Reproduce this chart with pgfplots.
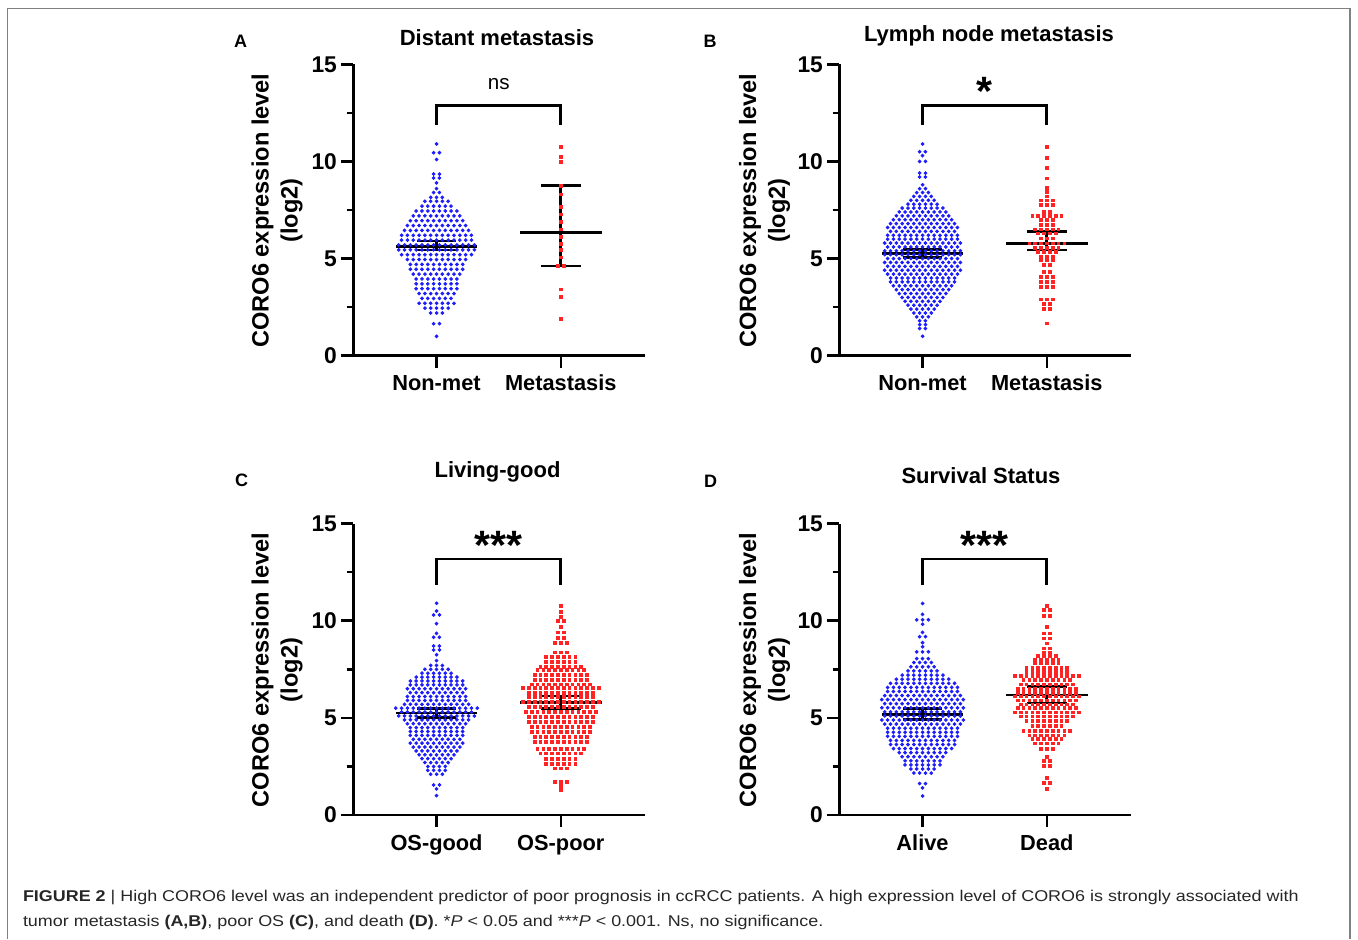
\documentclass[border=0pt]{standalone}
\usepackage{pgfplots}
\pgfplotsset{compat=1.18}
\usepackage{fontspec}
\setmainfont{Liberation Sans}
\newfontfamily\capfont{Liberation Sans}[FakeStretch=1.15]
\definecolor{dotblue}{RGB}{30,30,250}
\definecolor{dotred}{RGB}{255,35,35}

% one swarm column: style, group centre, column offset, y values (mirrored at +/- offset)
\newcommand\sw[4]{%
  \addplot[#1] table[header=false,row sep=\\,y index=0,x expr=#2+#3]{#4};
  \addplot[#1] table[header=false,row sep=\\,y index=0,x expr=#2-#3]{#4};}
\newcommand\swc[3]{%
  \addplot[#1] table[header=false,row sep=\\,y index=0,x expr=#2]{#3};}

\pgfplotsset{
  panel/.style={scale only axis, width=145.8pt, height=145.7pt, anchor=south west,
    xmin=-14.3, xmax=35.8, ymin=0, ymax=15, enlargelimits=false, clip=false,
    axis x line*=bottom, axis y line*=left,
    axis line style={-, line width=1.3pt, black},
    ytick={0,5,10,15}, minor ytick={2.5,7.5,12.5}, xtick={0,21.35},
    tick align=outside, major tick length=6pt, minor tick length=3.4pt,
    tick style={black, line width=1.3pt},
    yticklabel style={font=\bfseries\fontsize{11.4}{12}\selectfont, inner sep=2pt},
    xticklabel style={font=\bfseries\fontsize{10.9}{12}\selectfont, text height=8pt, text depth=1pt},
    /pgf/number format/assume math mode=true},
  bd/.style={only marks, mark=*, mark size=0.72pt, color=dotblue},
  rd/.style={only marks, mark=square*, mark size=0.68pt, color=dotred},
  bar/.style={black, line width=1.35pt, no marks, unbounded coords=jump},
}
\tikzset{stars/.style={anchor=base, font=\bfseries\fontsize{20.5}{20}\selectfont}}

\begin{document}
\begin{tikzpicture}
\useasboundingbox (0,0) rectangle (679pt,-469.5pt);
\draw[black!50, line width=0.6pt] (3.65pt,-469.5pt) -- (3.65pt,-4.25pt) -- (675pt,-4.25pt) -- (675pt,-469.5pt);

% ---------------- A
\begin{axis}[panel, at={(176.65pt,-177.85pt)}, xticklabels={Non-met,Metastasis}]
\swc{bd}{0}{10.9\\10.1\\8.9\\8.6\\8.15\\7.95\\7.2\\6.7\\6.2\\5.95\\5.2\\4.95\\4.2\\3.2\\2.7\\2.45\\2.2\\1.0\\}
\sw{bd}{0}{1}{8.15\\7.95\\7.2\\6.7\\6.2\\5.95\\5.2\\4.95\\4.2\\3.2\\2.7\\2.45\\2.2\\}
\sw{bd}{0}{2}{7.95\\7.2\\6.7\\6.2\\5.95\\5.2\\4.95\\4.2\\3.2\\2.7\\2.45\\}
\sw{bd}{0}{3}{7.2\\6.7\\6.2\\5.95\\5.2\\4.95\\4.2\\3.2\\2.7\\}
\sw{bd}{0}{4}{7.2\\6.7\\6.2\\5.95\\5.2\\4.95\\4.2\\}
\sw{bd}{0}{5}{6.7\\6.2\\5.95\\5.2\\4.95\\}
\sw{bd}{0}{6}{6.2\\5.95\\5.2\\}
\sw{bd}{0}{0.5}{10.45\\9.35\\9.15\\8.4\\7.7\\7.45\\6.95\\6.45\\5.7\\5.45\\4.7\\4.45\\3.95\\3.7\\3.45\\2.95\\1.65\\}
\sw{bd}{0}{1.5}{7.7\\7.45\\6.95\\6.45\\5.7\\5.45\\4.7\\4.45\\3.95\\3.7\\3.45\\2.95\\}
\sw{bd}{0}{2.5}{7.7\\7.45\\6.95\\6.45\\5.7\\5.45\\4.7\\4.45\\3.95\\3.7\\3.45\\2.95\\}
\sw{bd}{0}{3.5}{7.45\\6.95\\6.45\\5.7\\5.45\\4.7\\4.45\\3.95\\3.7\\3.45\\}
\sw{bd}{0}{4.5}{6.95\\6.45\\5.7\\5.45\\4.7\\4.45\\}
\sw{bd}{0}{5.5}{6.45\\5.7\\5.45\\}
\sw{bd}{0}{6.5}{5.7\\5.45\\}
\addplot[bar] coordinates {(-7,5.63) (7,5.63) (0,nan) (-3.4,5.90) (3.4,5.90) (0,nan) (-3.4,5.44) (3.4,5.44) (0,nan) (0,5.44) (0,5.90)};
\addplot[bar] coordinates {(14.35,6.33) (28.35,6.33) (0,nan) (17.95,8.77) (24.75,8.77) (0,nan) (17.95,4.62) (24.75,4.62) (0,nan) (21.35,4.62) (21.35,8.77)};
\swc{rd}{21.35}{10.76\\10.24\\9.99\\8.75\\8.3\\7.67\\7.28\\6.9\\6.5\\6.13\\5.75\\5.44\\5.06\\3.42\\3.01\\1.89\\}
\sw{rd}{21.35}{0.5}{4.62\\}
\addplot[bar] coordinates {(0,11.87) (0,12.87) (21.35,12.87) (21.35,11.87)};
\node[anchor=base, font=\fontsize{10.3}{12}\selectfont] at (axis cs:10.68,13.7) {ns};
\draw[line width=1.3pt] (axis cs:-14.3,0) -- ++(-6pt,0);
\end{axis}

% ---------------- B
\begin{axis}[panel, at={(419.65pt,-177.85pt)}, xticklabels={Non-met,Metastasis}]
\swc{bd}{0}{10.9\\10.3\\8.8\\8.4\\8.0\\7.4\\7.0\\6.6\\6.2\\6.0\\5.6\\5.0\\4.6\\4.2\\3.6\\3.2\\2.8\\2.4\\2.0\\1.0\\}
\sw{bd}{0}{1}{8.4\\8.0\\7.4\\7.0\\6.6\\6.2\\6.0\\5.6\\5.0\\4.6\\4.2\\3.6\\3.2\\2.8\\2.4\\2.0\\}
\sw{bd}{0}{2}{8.0\\7.4\\7.0\\6.6\\6.2\\6.0\\5.6\\5.0\\4.6\\4.2\\3.6\\3.2\\2.8\\2.4\\}
\sw{bd}{0}{3}{7.4\\7.0\\6.6\\6.2\\6.0\\5.6\\5.0\\4.6\\4.2\\3.6\\3.2\\2.8\\}
\sw{bd}{0}{4}{7.4\\7.0\\6.6\\6.2\\6.0\\5.6\\5.0\\4.6\\4.2\\3.6\\3.2\\}
\sw{bd}{0}{5}{7.0\\6.6\\6.2\\6.0\\5.6\\5.0\\4.6\\4.2\\3.6\\}
\sw{bd}{0}{6}{6.6\\6.2\\6.0\\5.6\\5.0\\4.6\\4.2\\}
\sw{bd}{0}{0.5}{10.5\\10.0\\9.4\\9.2\\8.6\\8.2\\7.8\\7.6\\7.2\\6.8\\6.4\\5.8\\5.4\\5.2\\4.8\\4.4\\4.0\\3.8\\3.4\\3.0\\2.6\\2.2\\1.8\\1.6\\1.4\\}
\sw{bd}{0}{1.5}{8.2\\7.8\\7.6\\7.2\\6.8\\6.4\\5.8\\5.4\\5.2\\4.8\\4.4\\4.0\\3.8\\3.4\\3.0\\2.6\\2.2\\}
\sw{bd}{0}{2.5}{7.8\\7.6\\7.2\\6.8\\6.4\\5.8\\5.4\\5.2\\4.8\\4.4\\4.0\\3.8\\3.4\\3.0\\2.6\\}
\sw{bd}{0}{3.5}{7.6\\7.2\\6.8\\6.4\\5.8\\5.4\\5.2\\4.8\\4.4\\4.0\\3.8\\3.4\\3.0\\}
\sw{bd}{0}{4.5}{7.2\\6.8\\6.4\\5.8\\5.4\\5.2\\4.8\\4.4\\4.0\\3.8\\3.4\\}
\sw{bd}{0}{5.5}{6.8\\6.4\\5.8\\5.4\\5.2\\4.8\\4.4\\4.0\\3.8\\}
\sw{bd}{0}{6.5}{5.8\\5.4\\5.2\\4.8\\4.4\\}
\swc{rd}{21.35}{10.76\\10.2\\9.67\\9.13\\8.62\\8.42\\8.2\\8.0\\7.75\\7.0\\6.72\\6.5\\6.04\\5.78\\5.56\\5.1\\4.9\\4.07\\3.8\\3.55\\2.9\\1.66\\}
\sw{rd}{21.35}{1}{8.0\\7.75\\7.0\\6.72\\6.5\\6.04\\5.78\\5.56\\5.1\\4.9\\4.07\\3.8\\3.55\\2.9\\}
\sw{rd}{21.35}{2}{6.5\\5.78\\5.56\\}
\sw{rd}{21.35}{3}{5.78\\}
\sw{rd}{21.35}{0.5}{7.4\\7.2\\6.3\\5.36\\4.67\\4.33\\2.65\\2.4\\}
\sw{rd}{21.35}{1.5}{7.2\\6.3\\5.36\\}
\sw{rd}{21.35}{2.5}{7.2\\}
\addplot[bar] coordinates {(-7,5.27) (7,5.27) (0,nan) (-3.4,5.47) (3.4,5.47) (0,nan) (-3.4,5.06) (3.4,5.06) (0,nan) (0,5.06) (0,5.47)};
\addplot[bar] coordinates {(14.35,5.78) (28.35,5.78) (0,nan) (17.95,6.40) (24.75,6.40) (0,nan) (17.95,5.44) (24.75,5.44) (0,nan) (21.35,5.44) (21.35,6.40)};
\addplot[bar] coordinates {(0,11.87) (0,12.87) (21.35,12.87) (21.35,11.87)};
\node[stars] at (axis cs:10.68,12.86) {*};
\draw[line width=1.3pt] (axis cs:-14.3,0) -- ++(-6pt,0);
\end{axis}

% ---------------- C
\begin{axis}[panel, at={(176.65pt,-407.5pt)}, xticklabels={OS-good,OS-poor}]
\swc{bd}{0}{10.9\\10.5\\9.85\\9.35\\8.25\\7.95\\7.7\\7.5\\6.5\\6.1\\5.9\\5.5\\5.3\\4.7\\3.9\\3.5\\3.1\\2.7\\2.1\\1.35\\1.0\\}
\sw{bd}{0}{1}{7.7\\7.5\\6.5\\6.1\\5.9\\5.5\\5.3\\4.7\\3.9\\3.5\\3.1\\2.7\\2.1\\}
\sw{bd}{0}{2}{7.5\\6.5\\6.1\\5.9\\5.5\\5.3\\4.7\\3.9\\3.5\\3.1\\2.7\\}
\sw{bd}{0}{3}{6.5\\6.1\\5.9\\5.5\\5.3\\4.7\\3.9\\3.5\\3.1\\}
\sw{bd}{0}{4}{6.5\\6.1\\5.9\\5.5\\5.3\\4.7\\3.9\\3.5\\}
\sw{bd}{0}{5}{6.5\\6.1\\5.9\\5.5\\5.3\\4.7\\}
\sw{bd}{0}{6}{5.5\\5.3\\}
\sw{bd}{0}{7}{5.5\\}
\sw{bd}{0}{0.5}{10.3\\9.15\\8.7\\8.5\\7.3\\7.1\\6.9\\6.7\\6.3\\5.7\\5.1\\4.9\\4.5\\4.3\\4.1\\3.7\\3.3\\2.9\\2.5\\2.3\\1.55\\}
\sw{bd}{0}{1.5}{7.3\\7.1\\6.9\\6.7\\6.3\\5.7\\5.1\\4.9\\4.5\\4.3\\4.1\\3.7\\3.3\\2.9\\2.5\\2.3\\}
\sw{bd}{0}{2.5}{7.3\\7.1\\6.9\\6.7\\6.3\\5.7\\5.1\\4.9\\4.5\\4.3\\4.1\\3.7\\3.3\\2.9\\}
\sw{bd}{0}{3.5}{7.1\\6.9\\6.7\\6.3\\5.7\\5.1\\4.9\\4.5\\4.3\\4.1\\3.7\\3.3\\}
\sw{bd}{0}{4.5}{6.9\\6.7\\6.3\\5.7\\5.1\\4.9\\4.5\\4.3\\4.1\\3.7\\}
\sw{bd}{0}{5.5}{5.7\\5.1\\4.9\\}
\sw{bd}{0}{6.5}{5.1\\}
\swc{rd}{21.35}{10.76\\10.46\\10.2\\9.69\\8.85\\8.37\\7.46\\6.72\\5.3\\4.55\\4.29\\3.4\\2.4\\1.7\\1.5\\1.28\\}
\sw{rd}{21.35}{1}{8.85\\8.37\\7.46\\6.72\\5.3\\4.55\\4.29\\3.4\\2.4\\1.7\\}
\sw{rd}{21.35}{2}{7.46\\6.72\\5.3\\4.55\\4.29\\3.4\\}
\sw{rd}{21.35}{3}{7.46\\6.72\\5.3\\4.55\\4.29\\3.4\\}
\sw{rd}{21.35}{4}{7.46\\6.72\\5.3\\4.55\\4.29\\3.4\\}
\sw{rd}{21.35}{5}{6.72\\5.3\\4.55\\4.29\\}
\sw{rd}{21.35}{6}{5.3\\}
\sw{rd}{21.35}{0.5}{9.98\\9.4\\9.1\\8.15\\7.9\\7.63\\7.2\\6.95\\6.55\\6.3\\6.09\\5.84\\5.58\\5.06\\4.8\\4.03\\3.77\\3.17\\2.9\\2.64\\}
\sw{rd}{21.35}{1.5}{8.15\\7.9\\7.63\\7.2\\6.95\\6.55\\6.3\\6.09\\5.84\\5.58\\5.06\\4.8\\4.03\\3.77\\3.17\\2.9\\2.64\\}
\sw{rd}{21.35}{2.5}{8.15\\7.9\\7.63\\7.2\\6.95\\6.55\\6.3\\6.09\\5.84\\5.58\\5.06\\4.8\\4.03\\3.77\\3.17\\2.9\\2.64\\}
\sw{rd}{21.35}{3.5}{7.63\\7.2\\6.95\\6.55\\6.3\\6.09\\5.84\\5.58\\5.06\\4.8\\4.03\\3.77\\3.17\\}
\sw{rd}{21.35}{4.5}{7.2\\6.95\\6.55\\6.3\\6.09\\5.84\\5.58\\5.06\\4.8\\4.03\\3.77\\}
\sw{rd}{21.35}{5.5}{6.55\\6.3\\6.09\\5.84\\5.58\\5.06\\4.8\\}
\sw{rd}{21.35}{6.5}{6.55\\5.84\\}
\addplot[bar] coordinates {(-7,5.25) (7,5.25) (0,nan) (-3.4,5.49) (3.4,5.49) (0,nan) (-3.4,5.03) (3.4,5.03) (0,nan) (0,5.03) (0,5.49)};
\addplot[bar] coordinates {(14.35,5.80) (28.35,5.80) (0,nan) (17.95,6.12) (24.75,6.12) (0,nan) (17.95,5.49) (24.75,5.49) (0,nan) (21.35,5.49) (21.35,6.12)};
\addplot[bar] coordinates {(0,11.84) (0,13.18) (21.35,13.18) (21.35,11.84)};
\node[stars] at (axis cs:10.68,13.16) {***};
\draw[line width=1.3pt] (axis cs:-14.3,0) -- ++(-6pt,0);
\end{axis}

% ---------------- D
\begin{axis}[panel, at={(419.65pt,-407.5pt)}, xticklabels={Alive,Dead}]
\swc{bd}{0}{10.89\\10.33\\10.05\\9.82\\9.4\\8.87\\8.66\\8.4\\8.05\\7.63\\6.57\\6.36\\5.94\\5.52\\4.89\\4.47\\4.26\\4.05\\3.42\\3.21\\2.79\\2.58\\2.37\\1.4\\0.98\\}
\sw{bd}{0}{1}{10.05\\8.4\\8.05\\7.63\\6.57\\6.36\\5.94\\5.52\\4.89\\4.47\\4.26\\4.05\\3.42\\3.21\\2.79\\2.58\\2.37\\}
\sw{bd}{0}{2}{7.63\\6.57\\6.36\\5.94\\5.52\\4.89\\4.47\\4.26\\4.05\\3.42\\3.21\\2.79\\2.58\\2.37\\}
\sw{bd}{0}{3}{6.57\\6.36\\5.94\\5.52\\4.89\\4.47\\4.26\\4.05\\3.42\\3.21\\2.79\\2.58\\}
\sw{bd}{0}{4}{6.57\\6.36\\5.94\\5.52\\4.89\\4.47\\4.26\\4.05\\3.42\\3.21\\}
\sw{bd}{0}{5}{6.57\\6.36\\5.94\\5.52\\4.89\\4.47\\4.26\\4.05\\3.42\\}
\sw{bd}{0}{6}{6.57\\6.36\\5.94\\5.52\\4.89\\4.47\\4.26\\4.05\\}
\sw{bd}{0}{7}{5.94\\5.52\\4.89\\}
\sw{bd}{0}{0.5}{9.18\\7.85\\7.42\\7.2\\6.99\\6.78\\6.15\\5.73\\5.31\\5.1\\4.68\\3.84\\3.63\\3.0\\2.16\\1.62\\}
\sw{bd}{0}{1.5}{7.85\\7.42\\7.2\\6.99\\6.78\\6.15\\5.73\\5.31\\5.1\\4.68\\3.84\\3.63\\3.0\\2.16\\}
\sw{bd}{0}{2.5}{7.42\\7.2\\6.99\\6.78\\6.15\\5.73\\5.31\\5.1\\4.68\\3.84\\3.63\\3.0\\}
\sw{bd}{0}{3.5}{7.2\\6.99\\6.78\\6.15\\5.73\\5.31\\5.1\\4.68\\3.84\\3.63\\3.0\\}
\sw{bd}{0}{4.5}{6.99\\6.78\\6.15\\5.73\\5.31\\5.1\\4.68\\3.84\\3.63\\}
\sw{bd}{0}{5.5}{6.78\\6.15\\5.73\\5.31\\5.1\\4.68\\3.84\\3.63\\}
\sw{bd}{0}{6.5}{6.15\\5.73\\5.31\\5.1\\4.68\\}
\swc{rd}{21.35}{10.76\\9.69\\8.83\\8.0\\7.8\\6.95\\6.5\\6.3\\5.9\\5.5\\4.32\\4.1\\3.69\\3.4\\3.0\\1.9\\1.35\\}
\sw{rd}{21.35}{1}{8.0\\7.8\\6.95\\6.5\\6.3\\5.9\\5.5\\4.32\\4.1\\3.69\\3.4\\}
\sw{rd}{21.35}{2}{8.0\\7.8\\6.95\\6.5\\6.3\\5.9\\5.5\\4.32\\4.1\\3.69\\}
\sw{rd}{21.35}{3}{6.95\\6.5\\6.3\\5.9\\5.5\\4.32\\4.1\\}
\sw{rd}{21.35}{4}{6.95\\6.5\\6.3\\5.9\\5.5\\4.32\\}
\sw{rd}{21.35}{5}{6.5\\6.3\\5.9\\5.5\\}
\sw{rd}{21.35}{0.5}{10.55\\10.25\\9.35\\9.09\\8.58\\8.37\\8.18\\7.58\\7.37\\7.17\\6.72\\6.1\\5.7\\5.28\\5.08\\4.83\\4.57\\3.9\\2.8\\2.52\\1.67\\}
\sw{rd}{21.35}{1.5}{8.18\\7.58\\7.37\\7.17\\6.72\\6.1\\5.7\\5.28\\5.08\\4.83\\4.57\\3.9\\}
\sw{rd}{21.35}{2.5}{7.58\\7.37\\7.17\\6.72\\6.1\\5.7\\5.28\\5.08\\4.83\\4.57\\3.9\\}
\sw{rd}{21.35}{3.5}{7.58\\7.37\\7.17\\6.72\\6.1\\5.7\\5.28\\5.08\\4.83\\}
\sw{rd}{21.35}{4.5}{7.17\\6.72\\6.1\\5.7\\5.28\\5.08\\}
\sw{rd}{21.35}{5.5}{7.17\\6.1\\5.28\\}
\addplot[bar] coordinates {(-7,5.18) (7,5.18) (0,nan) (-3.4,5.47) (3.4,5.47) (0,nan) (-3.4,4.93) (3.4,4.93) (0,nan) (0,4.93) (0,5.47)};
\addplot[bar] coordinates {(14.35,6.18) (28.35,6.18) (0,nan) (17.95,6.61) (24.75,6.61) (0,nan) (17.95,5.76) (24.75,5.76) (0,nan) (21.35,5.76) (21.35,6.61)};
\addplot[bar] coordinates {(0,11.84) (0,13.18) (21.35,13.18) (21.35,11.84)};
\node[stars] at (axis cs:10.68,13.16) {***};
\draw[line width=1.3pt] (axis cs:-14.3,0) -- ++(-6pt,0);
\end{axis}

% titles, panel letters, y labels
\begin{scope}[every node/.style={font=\bfseries\fontsize{11}{13}\selectfont}]
\node at (248.5pt,-19pt) {Distant metastasis};
\node at (494.5pt,-17.75pt) {Lymph node metastasis};
\node at (248.75pt,-235.85pt) {Living-good};
\node at (490.5pt,-238pt) {Survival Status};
\end{scope}
\begin{scope}[every node/.style={font=\bfseries\fontsize{9}{11}\selectfont}]
\node at (120.25pt,-20.75pt) {A};
\node at (355pt,-20.85pt) {B};
\node at (120.85pt,-240pt) {C};
\node at (355.25pt,-240.5pt) {D};
\end{scope}
\begin{scope}[every node/.style={rotate=90, align=center, font=\bfseries\fontsize{11.8}{14.5}\selectfont}]
\node at (138.5pt,-105.25pt) {CORO6 expression level\\(log2)};
\node at (382.25pt,-105.25pt) {CORO6 expression level\\(log2)};
\node at (138.5pt,-335pt) {CORO6 expression level\\(log2)};
\node at (382.25pt,-335pt) {CORO6 expression level\\(log2)};
\end{scope}

% caption
\begin{scope}[every node/.style={anchor=base west, inner sep=0pt, text=black!85, font=\capfont\fontsize{7.8}{12}\selectfont}]
\node at (11.3pt,-450.85pt) {\textbf{FIGURE 2} | High CORO6 level was an independent predictor of poor prognosis in ccRCC patients. A high expression level of CORO6 is strongly associated with};
\node at (11.3pt,-463.35pt) {tumor metastasis \textbf{(A,B)}, poor OS \textbf{(C)}, and death \textbf{(D)}. *\textit{P} < 0.05 and ***\textit{P} < 0.001. Ns, no significance.};
\end{scope}
\end{tikzpicture}
\end{document}
